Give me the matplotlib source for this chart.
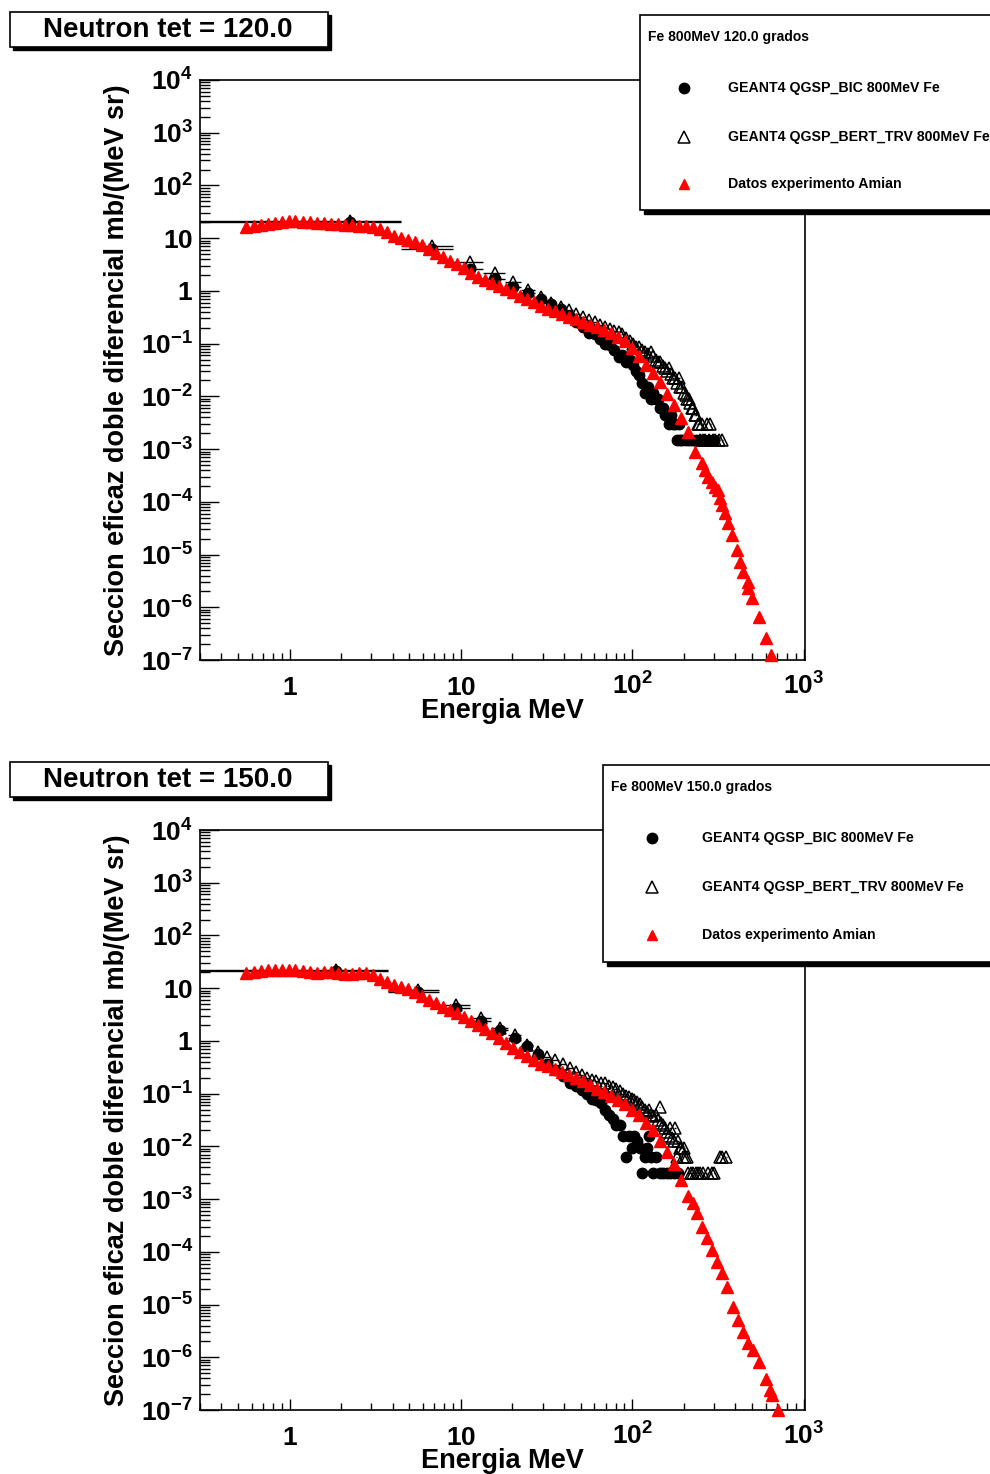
import numpy as np
import matplotlib
matplotlib.use('Agg')
import matplotlib.pyplot as plt
from matplotlib.patches import Rectangle
from matplotlib.ticker import FuncFormatter, LogLocator, NullFormatter

# ---- data ----
panel_titles = ['Neutron tet = 120.0', 'Neutron tet = 150.0']
legend_headers = ['Fe 800MeV 120.0 grados', 'Fe 800MeV 150.0 grados']
series_labels = ['GEANT4 QGSP_BIC 800MeV Fe',
                 'GEANT4 QGSP_BERT_TRV 800MeV Fe',
                 'Datos experimento Amian']

# Amian data energies (MeV), same sampling of the dense part in both panels
amian_e_dense = [0.560, 0.616, 0.677, 0.744, 0.817, 0.898, 0.987, 1.08, 1.19, 1.31,
                 1.44, 1.58, 1.74, 1.91, 2.10, 2.31, 2.53, 2.78, 3.06, 3.36,
                 3.69, 4.06, 4.46, 4.90, 5.38, 5.92, 6.50, 7.14, 7.85, 8.63,
                 9.48, 10.4, 11.4, 12.6, 13.8, 15.2, 16.7, 18.3, 20.1, 22.1,
                 24.3, 26.7, 29.4, 32.3, 35.5, 39.0, 42.8, 47.0, 51.7, 56.8,
                 62.4, 68.6, 75.4, 82.8, 91.0, 100, 110, 121, 133, 146,
                 160, 176, 193, 213]

top_amian_v_dense = [16.3, 17.0, 17.7, 18.5, 19.3, 20.2, 21.1, 21.1, 20.2, 20.2,
                     19.3, 19.3, 18.5, 18.5, 17.7, 17.7, 17.0, 17.0, 16.3, 14.9,
                     13.1, 11.0, 10.0, 9.2, 8.43, 7.40, 6.21, 5.21, 4.38, 3.67,
                     3.23, 2.71, 2.18, 1.83, 1.60, 1.41, 1.23, 1.08, 0.948, 0.796,
                     0.698, 0.612, 0.515, 0.452, 0.414, 0.363, 0.318, 0.292, 0.256, 0.224,
                     0.206, 0.180, 0.158, 0.133, 0.111, 0.0822, 0.0580, 0.0391, 0.0275, 0.0186,
                     0.0110, 0.00681, 0.00386, 0.00209]
top_amian_e_tail = [234, 257, 267, 278, 294, 306, 318, 327, 336, 350, 364,
                    384, 411, 428, 446, 471, 477, 503, 546, 600, 650]
top_amian_v_tail = [8.73e-4, 5.40e-4, 3.98e-4, 2.93e-4, 2.36e-4, 1.89e-4, 1.66e-4,
                    1.17e-4, 8.6e-5, 6.1e-5, 3.93e-5, 2.32e-5, 1.21e-5, 7.15e-6,
                    4.62e-6, 2.98e-6, 2.30e-6, 1.48e-6, 6.46e-7, 2.58e-7, 1.23e-7]

bot_amian_v_dense = [19.3, 20.2, 21.1, 22.0, 22.0, 22.0, 22.0, 22.0, 21.1, 20.2,
                     19.3, 20.2, 20.2, 19.3, 18.5, 18.5, 19.3, 19.3, 17.7, 14.9,
                     13.1, 11.5, 10.5, 9.61, 8.43, 7.08, 5.94, 5.21, 4.38, 3.84,
                     3.37, 2.83, 2.38, 1.99, 1.67, 1.41, 1.13, 0.908, 0.730, 0.612,
                     0.515, 0.432, 0.363, 0.333, 0.292, 0.256, 0.224, 0.197, 0.173, 0.145,
                     0.122, 0.107, 0.0897, 0.0753, 0.0632, 0.0487, 0.0391, 0.0275, 0.0203, 0.0126,
                     0.00777, 0.00459, 0.00229, 0.00114]
bot_amian_e_tail = [227, 240, 257, 275, 294, 314, 336, 359, 390,
                    417, 446, 477, 510, 546, 600, 641, 659, 714]
bot_amian_v_tail = [8.36e-4, 5.40e-4, 2.93e-4, 1.81e-4, 1.07e-4, 6.35e-5, 3.93e-5,
                    2.13e-5, 8.89e-6, 5.04e-6, 2.98e-6, 1.84e-6, 1.36e-6, 8.04e-7,
                    3.83e-7, 2.37e-7, 1.90e-7, 1.0e-7]

# simulation histograms (bin centres in MeV, bin widths in MeV)
top_bin_width = 4.5
bot_bin_width = 3.75

top_bic_e = [2.25, 6.75, 11.25, 15.75, 20.25, 24.75, 29.25, 33.75, 38.25, 42.75,
             47.25, 51.75, 56.25, 60.75, 65.25, 69.75, 74.25, 78.75, 83.25, 87.75,
             92.25, 96.75, 101.25, 105.75, 110.25, 114.75, 119.25, 123.75, 128.25, 132.75,
             137.25, 141.75, 146.25, 150.75, 155.25, 159.75, 164.25, 168.75, 173.25, 177.75,
             182.25, 186.75, 191.25, 195.75, 204.75, 213.75, 222.75, 236.25, 249.75, 263.25,
             281.25, 299.25]
top_bic_v = [20.0, 6.3, 2.6, 1.7, 1.2, 0.92, 0.70, 0.56, 0.45, 0.33,
             0.26, 0.21, 0.16, 0.15, 0.12, 0.10, 0.095, 0.075, 0.055, 0.06,
             0.045, 0.05, 0.039, 0.030, 0.025, 0.018, 0.0118, 0.0148, 0.0089, 0.0118,
             0.0089, 0.0089, 0.0059, 0.0059, 0.0044, 0.0044, 0.0030, 0.0044, 0.0030, 0.0030,
             0.0015, 0.0030, 0.0015, 0.0015, 0.0015, 0.0015, 0.0015, 0.0015, 0.0015, 0.0015,
             0.0015, 0.0015]

top_bert_e = [2.25, 6.75, 11.25, 15.75, 20.25, 24.75, 29.25, 33.75, 38.25, 42.75,
              47.25, 51.75, 56.25, 60.75, 65.25, 69.75, 74.25, 78.75, 83.25, 87.75,
              92.25, 96.75, 101.25, 105.75, 110.25, 114.75, 119.25, 123.75, 128.25, 132.75,
              137.25, 141.75, 146.25, 150.75, 155.25, 159.75, 164.25, 168.75, 173.25, 177.75,
              182.25, 186.75, 191.25, 195.75, 200.25, 204.75, 209.25, 213.75, 218.25, 222.75,
              227.25, 231.75, 236.25, 240.75, 245.25, 249.75, 254.25, 258.75, 267.75, 272.25,
              281.25, 285.75, 294.75, 303.75, 321.75, 335.25]
top_bert_v = [21.0, 7.2, 3.6, 2.2, 1.47, 1.03, 0.76, 0.58, 0.50, 0.43,
              0.37, 0.32, 0.28, 0.26, 0.23, 0.21, 0.19, 0.17, 0.166, 0.15,
              0.128, 0.11, 0.10, 0.086, 0.086, 0.075, 0.07, 0.065, 0.069, 0.058,
              0.05, 0.045, 0.045, 0.038, 0.035, 0.030, 0.035, 0.026, 0.022, 0.022,
              0.018, 0.022, 0.015, 0.0148, 0.0118, 0.0104, 0.0089, 0.0089, 0.0074, 0.0059,
              0.0059, 0.0044, 0.0044, 0.0030, 0.0030, 0.0015, 0.0030, 0.0015, 0.0015, 0.0030,
              0.0015, 0.0030, 0.0015, 0.0015, 0.0015, 0.0015]

bot_bic_e = [1.875, 5.625, 9.375, 13.125, 16.875, 20.625, 24.375, 28.125, 31.875, 35.625,
             39.375, 43.125, 46.875, 50.625, 54.375, 58.125, 61.875, 65.625, 69.375, 73.125,
             76.875, 80.625, 84.375, 88.125, 91.875, 95.625, 99.375, 103.125, 106.875, 110.625,
             114.375, 118.125, 121.875, 125.625, 129.375, 133.125, 136.875, 144.375, 151.875, 159.375,
             166.875, 174.375, 185.625]
bot_bic_v = [21.0, 8.6, 4.3, 2.4, 1.6, 1.15, 0.80, 0.56, 0.36, 0.28,
             0.22, 0.16, 0.14, 0.115, 0.10, 0.08, 0.075, 0.066, 0.05, 0.039,
             0.033, 0.025, 0.025, 0.0155, 0.0062, 0.0155, 0.0093, 0.0155, 0.0124, 0.0093,
             0.0031, 0.0062, 0.0093, 0.0155, 0.0062, 0.0031, 0.0062, 0.0031, 0.0031, 0.0031,
             0.0031, 0.0031, 0.0031]

bot_bert_e = [1.875, 5.625, 9.375, 13.125, 16.875, 20.625, 24.375, 28.125, 31.875, 35.625,
              39.375, 43.125, 46.875, 50.625, 54.375, 58.125, 61.875, 65.625, 69.375, 73.125,
              76.875, 80.625, 84.375, 88.125, 91.875, 95.625, 99.375, 103.125, 106.875, 110.625,
              114.375, 118.125, 121.875, 125.625, 129.375, 133.125, 136.875, 140.625, 144.375, 148.125,
              151.875, 155.625, 159.375, 163.125, 166.875, 170.625, 174.375, 178.125, 181.875, 185.625,
              189.375, 193.125, 196.875, 200.625, 204.375, 208.125, 211.875, 219.375, 226.875, 234.375,
              241.875, 249.375, 260.625, 275.625, 290.625, 301.875, 324.375, 335.625, 354.375]
bot_bert_v = [22.0, 9.2, 4.8, 2.7, 1.75, 1.29, 0.85, 0.62, 0.50, 0.43,
              0.36, 0.31, 0.26, 0.23, 0.20, 0.18, 0.17, 0.16, 0.16, 0.14,
              0.135, 0.12, 0.11, 0.10, 0.09, 0.087, 0.08, 0.075, 0.07, 0.065,
              0.057, 0.05, 0.045, 0.05, 0.04, 0.037, 0.04, 0.031, 0.055, 0.028,
              0.025, 0.022, 0.019, 0.0155, 0.022, 0.0145, 0.0124, 0.022, 0.0062, 0.0124,
              0.0093, 0.0093, 0.0062, 0.0093, 0.0062, 0.0062, 0.0031, 0.0031, 0.0031, 0.0031,
              0.0031, 0.0031, 0.0031, 0.0031, 0.0031, 0.0031, 0.0062, 0.0062, 0.0062]

# ---- style ----
plt.rcParams['font.family'] = ['Liberation Sans', 'DejaVu Sans']
plt.rcParams['font.weight'] = 'bold'
plt.rcParams['mathtext.fontset'] = 'custom'
plt.rcParams['mathtext.rm'] = 'Liberation Sans:bold'
plt.rcParams['mathtext.bf'] = 'Liberation Sans:bold'
plt.rcParams['mathtext.it'] = 'Liberation Sans:bold'

W, H = 990, 1474
fig = plt.figure(figsize=(W / 100, H / 100), dpi=100)


def pow_label(v, pos):
    n = int(round(np.log10(v)))
    if n == 0:
        return r'$\mathbf{1}$'
    if n == 1:
        return r'$\mathbf{10}$'
    return r'$\mathbf{10^{%d}}$' % n


def xerrs(e, width):
    e = np.asarray(e, dtype=float)
    half = width / 2.0
    lo = np.minimum(half, e * 0.999)
    return [lo, np.full_like(e, half)]


def draw_panel(ax, a_e, a_v, bic_e, bic_v, bert_e, bert_v, width):
    ax.errorbar(bic_e, bic_v, xerr=xerrs(bic_e, width), fmt='o', color='black',
                ms=7.5, elinewidth=1.0, capsize=0, zorder=3)
    ax.errorbar(bert_e, bert_v, xerr=xerrs(bert_e, width), fmt='^', color='black',
                mfc='none', mec='black', mew=1.1, ms=9, elinewidth=1.0, capsize=0, zorder=4)
    ax.plot(a_e, a_v, ls='none', marker='^', color='red', mec='red', ms=8.2,
            zorder=5, clip_on=False)

    ax.set_xscale('log')
    ax.set_yscale('log')
    ax.set_xlim(0.3, 1020)
    ax.set_ylim(1e-7, 1e4)

    ax.set_xticks([1, 10, 100, 1000])
    ax.set_yticks([10.0 ** k for k in range(-7, 5)])
    ax.xaxis.set_minor_locator(LogLocator(base=10, subs=np.arange(2, 10), numticks=100))
    ax.yaxis.set_minor_locator(LogLocator(base=10, subs=np.arange(2, 10), numticks=100))
    ax.xaxis.set_major_formatter(FuncFormatter(pow_label))
    ax.yaxis.set_major_formatter(FuncFormatter(pow_label))
    ax.xaxis.set_minor_formatter(NullFormatter())
    ax.yaxis.set_minor_formatter(NullFormatter())

    ax.tick_params(axis='y', which='major', direction='in', length=14, width=1,
                   right=False, labelsize=19, pad=5)
    ax.tick_params(axis='y', which='minor', direction='in', length=7, width=1, right=False)
    ax.tick_params(axis='x', which='major', direction='in', length=8, width=1,
                   top=False, labelsize=19, pad=25)
    ax.tick_params(axis='x', which='minor', direction='in', length=5, width=1, top=False)
    for s in ax.spines.values():
        s.set_linewidth(1.2)

    ax.set_xlabel('Energia MeV', fontsize=19.5, fontweight='bold', va='center')
    ax.xaxis.set_label_coords(0.5, -51 / 580)
    ax.set_ylabel('Seccion eficaz doble diferencial mb/(MeV sr)', fontsize=19.5,
                  fontweight='bold', va='center')
    ax.yaxis.set_label_coords(-83 / 605, 0.5)
    plt.setp(ax.get_xticklabels(), va='baseline')


# axes rectangles in pixels: left 200, right 805; top panel 80..660, bottom 830..1410
ax_top = fig.add_axes([200 / W, 1 - 660 / H, 605 / W, 580 / H])
ax_bot = fig.add_axes([200 / W, 1 - 1410 / H, 605 / W, 580 / H])

draw_panel(ax_top, amian_e_dense + top_amian_e_tail, top_amian_v_dense + top_amian_v_tail,
           top_bic_e, top_bic_v, top_bert_e, top_bert_v, top_bin_width)
draw_panel(ax_bot, amian_e_dense + bot_amian_e_tail, bot_amian_v_dense + bot_amian_v_tail,
           bot_bic_e, bot_bic_v, bot_bert_e, bot_bert_v, bot_bin_width)

# ---- overlay for title boxes and legends (pixel coordinates) ----
ov = fig.add_axes([0, 0, 1, 1])
ov.set_xlim(0, W)
ov.set_ylim(H, 0)
ov.axis('off')
ov.set_zorder(10)


def shadow_box(x0, y0, x1, y1, off):
    ov.add_patch(Rectangle((x0 + off, y0 + off), x1 - x0, y1 - y0,
                           facecolor='black', edgecolor='black', lw=1))
    ov.add_patch(Rectangle((x0, y0), x1 - x0, y1 - y0,
                           facecolor='white', edgecolor='black', lw=1.2))


def legend_block(x0, y0, y1, header, mx, tx, rows):
    shadow_box(x0, y0, 1020, y1, 4)
    ov.text(x0 + 8, y0 + 22, header, fontsize=10, fontweight='bold', va='center', ha='left')
    ov.plot([mx], [rows[0]], 'o', color='black', ms=7.5)
    ov.plot([mx], [rows[1]], '^', mfc='none', mec='black', mew=1.1, ms=9)
    ov.plot([mx], [rows[2]], '^', color='red', mec='red', ms=7.5)
    for lab, ry in zip(series_labels, rows):
        ov.text(tx, ry, lab, fontsize=10.2, fontweight='bold', va='center', ha='left')


for title, ty in zip(panel_titles, [12, 762]):
    shadow_box(10, ty, 328, ty + 35, 3)
    ov.text(168, ty + 18, title, fontsize=20, fontweight='bold', ha='center', va='center')

legend_block(640, 15, 210, legend_headers[0], 684, 728, [88, 137, 184])
legend_block(603, 765, 962, legend_headers[1], 652, 702, [838, 887, 935])

fig.savefig('out.png', dpi=100)
